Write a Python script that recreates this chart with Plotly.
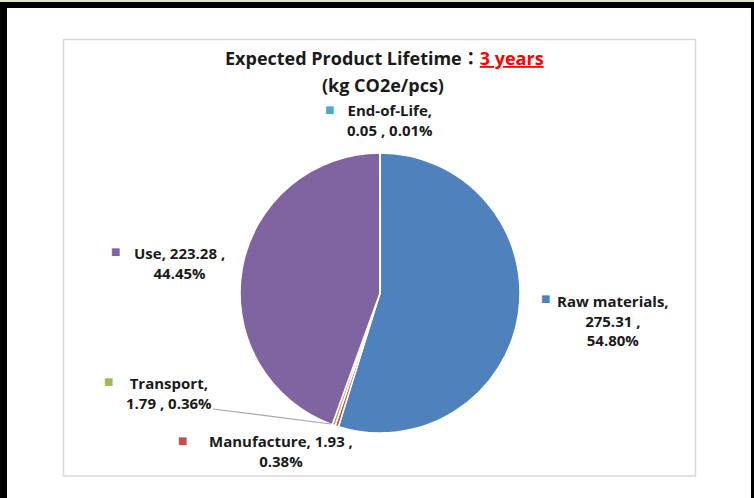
import plotly.graph_objects as go

# ---- data ----
categories = ["Raw materials", "Manufacture", "Transport", "Use", "End-of-Life"]
values = [275.31, 1.93, 1.79, 223.28, 0.05]
colors = ["#4f81bd", "#c0504d", "#9bbb59", "#8064a2", "#4bacc6"]
title_main = "Expected Product Lifetime"
title_sep = "："
title_red = "3 years"
title_unit = "(kg CO2e/pcs)"

# label line-break layout (how the text wraps) and pixel positions
label_layout = {
    "Raw materials": ("{n},<br>{v} ,<br>{p}", 613, 320, 545, 298),
    "Manufacture": ("{n}, {v} ,<br>{p}", 281, 451, 182, 440),
    "Transport": ("{n},<br>{v} , {p}", 169, 393, 108, 381),
    "Use": ("{n}, {v} ,<br>{p}", 179, 263, 115, 252),
    "End-of-Life": ("{n},<br>{v} , {p}", 390, 120, 329, 110),
}

W, H = 754, 498
FONT = "'Open Sans', sans-serif"


def px(x):
    return x / W


def py(y):
    return 1 - y / H


total = sum(values)
cx, cy, r = 380, 293, 140

fig = go.Figure(go.Pie(
    labels=categories,
    values=values,
    marker=dict(colors=colors, line=dict(color="white", width=1.5)),
    sort=False,
    direction="clockwise",
    rotation=0,
    textinfo="none",
    hoverinfo="label+value+percent",
    showlegend=False,
    domain=dict(x=[px(cx - r), px(cx + r)], y=[py(cy + r), py(cy - r)]),
))

annotations = []
for name, val, col in zip(categories, values, colors):
    fmt, tx, ty, sx, sy = label_layout[name]
    pct = f"{val / total * 100:.2f}%"
    txt = fmt.format(n=name, v=f"{val:.2f}", p=pct)
    annotations.append(dict(
        x=px(tx), y=py(ty), xref="paper", yref="paper", text=f"<b>{txt}</b>",
        showarrow=False, xanchor="center", yanchor="middle", align="center",
        font=dict(family=FONT, size=15, color="#1a1a1a"),
    ))
    annotations.append(dict(
        x=px(sx), y=py(sy), xref="paper", yref="paper", text="■",
        showarrow=False, xanchor="center", yanchor="middle",
        font=dict(family="DejaVu Sans", size=10, color=col),
    ))

annotations.append(dict(
    x=px(384), y=py(57), xref="paper", yref="paper",
    text=(f"<b>{title_main}<span style=\"font-family:'Noto Sans CJK TC'\">{title_sep}</span>"
          f"<span style='color:#ff0000'><u>{title_red}</u></span></b>"),
    showarrow=False, xanchor="center", yanchor="middle",
    font=dict(family=FONT, size=18, color="#1a1a1a"),
))
annotations.append(dict(
    x=px(383), y=py(85), xref="paper", yref="paper", text=f"<b>{title_unit}</b>",
    showarrow=False, xanchor="center", yanchor="middle",
    font=dict(family=FONT, size=18, color="#1a1a1a"),
))

shapes = [
    # outer frame pieces
    dict(type="rect", xref="paper", yref="paper", x0=0, x1=1, y0=py(2), y1=1,
         fillcolor="#dde5c5", line=dict(width=0), layer="above"),
    dict(type="rect", xref="paper", yref="paper", x0=0, x1=1, y0=py(8), y1=py(2),
         fillcolor="black", line=dict(width=0), layer="above"),
    dict(type="rect", xref="paper", yref="paper", x0=0, x1=px(7), y0=0, y1=py(2),
         fillcolor="black", line=dict(width=0), layer="above"),
    dict(type="rect", xref="paper", yref="paper", x0=px(751), x1=1, y0=0, y1=py(2),
         fillcolor="black", line=dict(width=0), layer="above"),
    # inner chart area border
    dict(type="rect", xref="paper", yref="paper", x0=px(63.5), x1=px(695.5),
         y0=py(476), y1=py(39.5), fillcolor="rgba(0,0,0,0)",
         line=dict(color="#d9d9d9", width=1.5), layer="below"),
    # leader line for Transport
    dict(type="line", xref="paper", yref="paper", x0=px(213), y0=py(409),
         x1=px(331), y1=py(424), line=dict(color="#a6a6a6", width=1.2)),
]

fig.update_layout(
    width=W, height=H,
    margin=dict(l=0, r=0, t=0, b=0),
    paper_bgcolor="white", plot_bgcolor="white",
    annotations=annotations, shapes=shapes,
)

fig.write_html("out.html", config={"displayModeBar": False},
               post_script="document.body.style.margin='0';")
